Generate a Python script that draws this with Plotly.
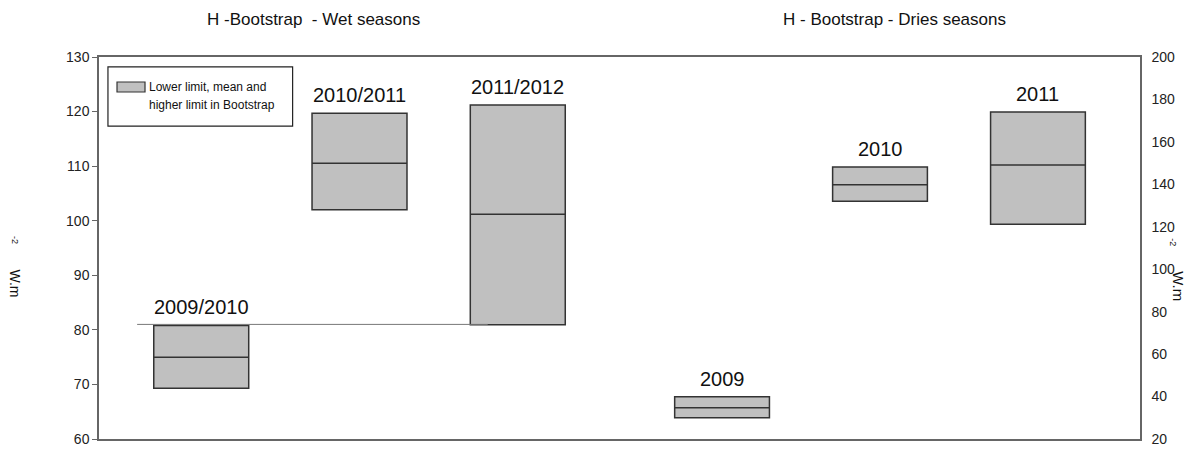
import plotly.graph_objects as go

# Bootstrap results of sensible heat flux H (W.m-2): lower limit, mean, higher limit
wet_seasons = ["2009/2010", "2010/2011", "2011/2012"]
wet_low = [69.3, 102.0, 80.95]
wet_mean = [75.0, 110.55, 101.2]
wet_high = [80.8, 119.7, 121.2]

dry_seasons = ["2009", "2010", "2011"]
dry_low = [30.0, 132.0, 121.2]
dry_mean = [34.7, 139.8, 149.1]
dry_high = [39.9, 148.2, 174.1]

# horizontal reference line on the wet-season axis
wet_ref_level = 81.0

left_ticks = [60, 70, 80, 90, 100, 110, 120, 130]
right_ticks = [20, 40, 60, 80, 100, 120, 140, 160, 180, 200]

FONT = "Liberation Sans, Arial, sans-serif"
FILL = "#c0c0c0"
EDGE = "#333333"
FRAME = "#666666"
BOX_W = 0.6
SPLIT = 0.5005  # boundary between the wet and dry panels (paper fraction)

wet_x = list(range(len(wet_seasons)))
dry_x = list(range(len(dry_seasons)))

fig = go.Figure()

fig.add_trace(go.Bar(
    x=wet_x, y=[h - l for h, l in zip(wet_high, wet_low)], base=wet_low,
    width=BOX_W, marker=dict(color=FILL, line=dict(color=EDGE, width=1.5)),
    xaxis="x", yaxis="y", hoverinfo="skip", showlegend=False,
))
fig.add_trace(go.Bar(
    x=dry_x, y=[h - l for h, l in zip(dry_high, dry_low)], base=dry_low,
    width=BOX_W, marker=dict(color=FILL, line=dict(color=EDGE, width=1.5)),
    xaxis="x2", yaxis="y2", hoverinfo="skip", showlegend=False,
))

shapes = []
annotations = []

# mean lines and year labels
for xs, means, highs, labels, xref, yref in [
    (wet_x, wet_mean, wet_high, wet_seasons, "x", "y"),
    (dry_x, dry_mean, dry_high, dry_seasons, "x2", "y2"),
]:
    for x, m, h, lab in zip(xs, means, highs, labels):
        shapes.append(dict(type="line", xref=xref, yref=yref,
                           x0=x - BOX_W / 2, x1=x + BOX_W / 2, y0=m, y1=m,
                           line=dict(color=EDGE, width=1.5)))
        annotations.append(dict(x=x, y=h, xref=xref, yref=yref, text=lab,
                                showarrow=False, yanchor="bottom", yshift=5,
                                font=dict(family=FONT, size=20, color="#111")))

shapes.append(dict(type="line", xref="x", yref="y", x0=-0.405, x1=1.81,
                   y0=wet_ref_level, y1=wet_ref_level,
                   line=dict(color="#777777", width=1)))

# legend box
shapes.append(dict(type="rect", xref="paper", yref="paper",
                   x0=0.0086, x1=0.186, y0=0.819, y1=0.974,
                   line=dict(color="#222", width=1.2), fillcolor="white"))
shapes.append(dict(type="rect", xref="paper", yref="paper",
                   x0=0.0173, x1=0.0442, y0=0.9084, y1=0.9346,
                   line=dict(color=EDGE, width=1.2), fillcolor=FILL))
annotations.append(dict(x=0.0465, y=0.921, xref="paper", yref="paper",
                        text="Lower limit, mean and", showarrow=False,
                        xanchor="left", yanchor="middle",
                        font=dict(family=FONT, size=12, color="#111")))
annotations.append(dict(x=0.0465, y=0.874, xref="paper", yref="paper",
                        text="higher limit in Bootstrap", showarrow=False,
                        xanchor="left", yanchor="middle",
                        font=dict(family=FONT, size=12, color="#111")))

# panel titles
annotations.append(dict(x=0.206, y=1.097, xref="paper", yref="paper",
                        text="H -Bootstrap  - Wet seasons", showarrow=False,
                        xanchor="center", yanchor="middle",
                        font=dict(family=FONT, size=17, color="#111")))
annotations.append(dict(x=0.764, y=1.097, xref="paper", yref="paper",
                        text="H - Bootstrap - Dries seasons", showarrow=False,
                        xanchor="center", yanchor="middle",
                        font=dict(family=FONT, size=17, color="#111")))

# unit labels on both sides
for xmain, xsup, ymain, ysup, size in [(-0.0807, -0.0807, 0.407, 0.521, 14),
                                       (1.0375, 1.0317, 0.400, 0.515, 15)]:
    annotations.append(dict(x=xmain, y=ymain, xref="paper", yref="paper",
                            text="W.m", textangle=90, showarrow=False,
                            xanchor="center", yanchor="middle",
                            font=dict(family=FONT, size=size, color="#111")))
    annotations.append(dict(x=xsup, y=ysup, xref="paper", yref="paper",
                            text="-2", textangle=90, showarrow=False,
                            xanchor="center", yanchor="middle",
                            font=dict(family=FONT, size=9, color="#111")))

xaxis_style = dict(range=[-0.646, 2.646], showticklabels=False, ticks="",
                   showgrid=False, zeroline=False, showline=True, mirror=True,
                   linecolor=FRAME, linewidth=1.5, automargin=False)

fig.update_layout(
    width=1195, height=449,
    margin=dict(l=99, r=55, t=57, b=10),
    paper_bgcolor="white", plot_bgcolor="white",
    font=dict(family=FONT, color="#222"),
    barmode="overlay", showlegend=False,
    xaxis=dict(domain=[0, SPLIT], anchor="y", **xaxis_style),
    xaxis2=dict(domain=[SPLIT, 1], anchor="y2", **xaxis_style),
    yaxis=dict(range=[60, 130], tickvals=left_ticks, ticks="outside",
               anchor="x", ticklen=5, tickcolor=FRAME, showgrid=False,
               zeroline=False, showline=True, linecolor=FRAME, linewidth=1.5,
               automargin=False,
               tickfont=dict(family=FONT, size=14, color="#222")),
    yaxis2=dict(range=[20, 200], tickvals=right_ticks, anchor="x2",
                side="right", ticks="", ticklabelstandoff=7, showgrid=False,
                zeroline=False, showline=True, linecolor=FRAME, linewidth=1.5,
                automargin=False,
                tickfont=dict(family=FONT, size=14, color="#222")),
    shapes=shapes,
    annotations=annotations,
)

fig.write_html("out.html")
